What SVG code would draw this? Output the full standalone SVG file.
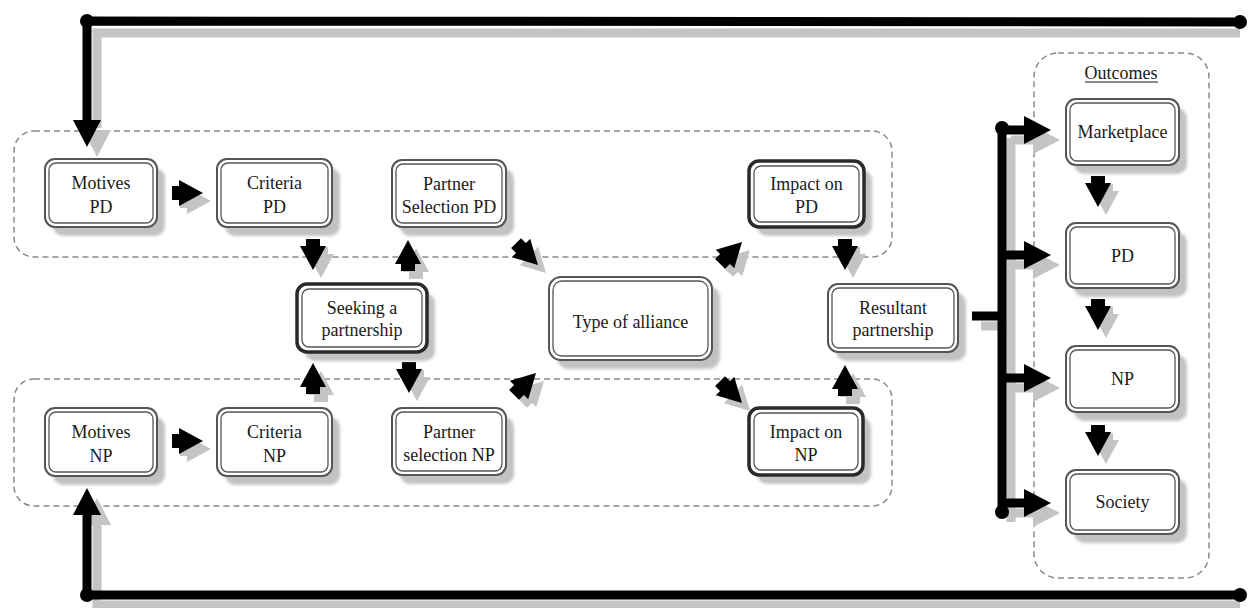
<svg xmlns="http://www.w3.org/2000/svg" xmlns:xlink="http://www.w3.org/1999/xlink" width="1254" height="608" viewBox="0 0 1254 608">
<style>
.bg{fill:#fff}
.dash{fill:none;stroke:#8a8a8a;stroke-width:1.5;stroke-dasharray:6 4}
.sh{fill:#c2c2c2}
.o{fill:#fff;stroke:#555;stroke-width:2}
.i{fill:none;stroke:#555;stroke-width:1.3}
.ot{fill:#fff;stroke:#2a2a2a;stroke-width:3.5}
.t{font-family:"Liberation Serif","Times New Roman",serif;font-size:18px;fill:#1a1a1a;text-anchor:middle}
.ln{fill:none;stroke:#000;stroke-width:9}
.lns{fill:none;stroke:#c4c4c4;stroke-width:9}
.blk{fill:#000}
.gry{fill:#c4c4c4}
</style>
<defs>
<filter id="bl" x="-10%" y="-10%" width="120%" height="120%"><feGaussianBlur stdDeviation="1.5"/></filter>
<g id="ah"><rect x="-31" y="-7" width="9" height="14"/><polygon points="-24,-13 0,0 -24,13"/></g>
<polygon id="lh" points="-27,-14 0,0 -27,14"/>
</defs>
<rect class="bg" x="0" y="0" width="1254" height="608"/>

<g id="containers">
<rect class="dash" x="14" y="131" width="878" height="126" rx="20"/>
<rect class="dash" x="14" y="379" width="878" height="127" rx="20"/>
<rect class="dash" x="1034" y="53" width="175" height="525" rx="24"/>
</g>

<g id="connectors">
<!-- feedback loops shadows -->
<g class="gry">
<path class="lns" d="M1240,33 H97 V128"/>
<use xlink:href="#lh" transform="translate(97,157) rotate(90)"/>
<path class="lns" d="M1240,605 H97 V508"/>
<use xlink:href="#lh" transform="translate(97,498) rotate(-90)"/>
<path class="lns" d="M981,326 H1011 M1011,138 V522 M1011,140 H1040 M1011,265 H1040 M1011,388 H1040 M1011,513 H1040"/>
<use xlink:href="#lh" transform="translate(1060,140)"/>
<use xlink:href="#lh" transform="translate(1060,265)"/>
<use xlink:href="#lh" transform="translate(1060,388)"/>
<use xlink:href="#lh" transform="translate(1060,513)"/>
<use xlink:href="#ah" transform="translate(211,201)"/>
<use xlink:href="#ah" transform="translate(211,449)"/>
<use xlink:href="#ah" transform="translate(321,278) rotate(90)"/>
<use xlink:href="#ah" transform="translate(416,248) rotate(-90)"/>
<use xlink:href="#ah" transform="translate(321,371) rotate(-90)"/>
<use xlink:href="#ah" transform="translate(417,401) rotate(90)"/>
<use xlink:href="#ah" transform="translate(546,273) rotate(45)"/>
<use xlink:href="#ah" transform="translate(544,381) rotate(-45)"/>
<use xlink:href="#ah" transform="translate(750,250) rotate(-45)"/>
<use xlink:href="#ah" transform="translate(750,411) rotate(45)"/>
<use xlink:href="#ah" transform="translate(853,278) rotate(90)"/>
<use xlink:href="#ah" transform="translate(853,373) rotate(-90)"/>
<use xlink:href="#ah" transform="translate(1106,215) rotate(90)"/>
<use xlink:href="#ah" transform="translate(1106,338) rotate(90)"/>
<use xlink:href="#ah" transform="translate(1106,464) rotate(90)"/>
</g>
<g class="blk">
<path class="ln" d="M1240,22 L87,21 V122"/>
<use xlink:href="#lh" transform="translate(87,147) rotate(90)"/>
<circle cx="87" cy="21" r="7"/><circle cx="1240" cy="22" r="7"/>
<path class="ln" d="M1240,595 H87 V512"/>
<use xlink:href="#lh" transform="translate(87,488) rotate(-90)"/>
<circle cx="87" cy="595" r="7"/><circle cx="1240" cy="595" r="7"/>
<path class="ln" d="M972,316 H1002 M1002,128 V512 M1002,130 H1030 M1002,255 H1030 M1002,378 H1030 M1002,503 H1030"/>
<circle cx="1002" cy="128" r="7"/><circle cx="1002" cy="512" r="7"/>
<use xlink:href="#lh" transform="translate(1051,130)"/>
<use xlink:href="#lh" transform="translate(1051,255)"/>
<use xlink:href="#lh" transform="translate(1051,378)"/>
<use xlink:href="#lh" transform="translate(1051,503)"/>
<use xlink:href="#ah" transform="translate(203,193)"/>
<use xlink:href="#ah" transform="translate(203,441)"/>
<use xlink:href="#ah" transform="translate(313,270) rotate(90)"/>
<use xlink:href="#ah" transform="translate(408,240) rotate(-90)"/>
<use xlink:href="#ah" transform="translate(313,363) rotate(-90)"/>
<use xlink:href="#ah" transform="translate(409,393) rotate(90)"/>
<use xlink:href="#ah" transform="translate(538,265) rotate(45)"/>
<use xlink:href="#ah" transform="translate(536,373) rotate(-45)"/>
<use xlink:href="#ah" transform="translate(742,242) rotate(-45)"/>
<use xlink:href="#ah" transform="translate(742,403) rotate(45)"/>
<use xlink:href="#ah" transform="translate(845,270) rotate(90)"/>
<use xlink:href="#ah" transform="translate(845,365) rotate(-90)"/>
<use xlink:href="#ah" transform="translate(1098,207) rotate(90)"/>
<use xlink:href="#ah" transform="translate(1098,330) rotate(90)"/>
<use xlink:href="#ah" transform="translate(1098,456) rotate(90)"/>
</g>
</g>

<g id="motives-pd">
<rect class="sh" filter="url(#bl)" x="53" y="168" width="112" height="68" rx="10"/>
<rect class="o" x="45" y="159" width="112" height="68" rx="10"/>
<rect class="i" x="49" y="163" width="104" height="60" rx="7"/>
<text class="t" x="101" y="189">Motives</text><text class="t" x="101" y="213">PD</text>
</g>
<g id="criteria-pd">
<rect class="sh" filter="url(#bl)" x="225" y="168" width="115" height="68" rx="10"/>
<rect class="o" x="217" y="159" width="115" height="68" rx="10"/>
<rect class="i" x="221" y="163" width="107" height="60" rx="7"/>
<text class="t" x="274.5" y="189">Criteria</text><text class="t" x="274.5" y="213">PD</text>
</g>
<g id="partner-selection-pd">
<rect class="sh" filter="url(#bl)" x="400" y="169" width="114" height="67" rx="10"/>
<rect class="o" x="392" y="160" width="114" height="67" rx="10"/>
<rect class="i" x="396" y="164" width="106" height="59" rx="7"/>
<text class="t" x="449" y="190">Partner</text><text class="t" x="449" y="213">Selection PD</text>
</g>
<g id="seeking">
<rect class="sh" filter="url(#bl)" x="305" y="293" width="130" height="68" rx="10"/>
<rect class="ot" x="297" y="284" width="130" height="68" rx="10"/>
<rect class="i" x="302" y="289" width="120" height="58" rx="7"/>
<text class="t" x="362" y="314">Seeking a</text><text class="t" x="362" y="336">partnership</text>
</g>
<g id="type-of-alliance">
<rect class="sh" filter="url(#bl)" x="557" y="286" width="163" height="83" rx="12"/>
<rect class="o" x="549" y="277" width="163" height="83" rx="12"/>
<rect class="i" x="553" y="281" width="155" height="75" rx="9"/>
<text class="t" x="630.5" y="328">Type of alliance</text>
</g>
<g id="impact-pd">
<rect class="sh" filter="url(#bl)" x="757" y="170" width="115" height="66" rx="10"/>
<rect class="ot" x="749" y="161" width="115" height="66" rx="10"/>
<rect class="i" x="754" y="166" width="105" height="56" rx="7"/>
<text class="t" x="806.5" y="190">Impact on</text><text class="t" x="806.5" y="213">PD</text>
</g>
<g id="resultant">
<rect class="sh" filter="url(#bl)" x="836" y="293" width="130" height="68" rx="10"/>
<rect class="o" x="828" y="284" width="130" height="68" rx="10"/>
<rect class="i" x="832" y="288" width="122" height="60" rx="7"/>
<text class="t" x="893" y="314">Resultant</text><text class="t" x="893" y="336">partnership</text>
</g>
<g id="impact-np">
<rect class="sh" filter="url(#bl)" x="757" y="417" width="114" height="67" rx="10"/>
<rect class="ot" x="749" y="408" width="114" height="67" rx="10"/>
<rect class="i" x="754" y="413" width="104" height="57" rx="7"/>
<text class="t" x="806" y="438">Impact on</text><text class="t" x="806" y="461">NP</text>
</g>
<g id="partner-selection-np">
<rect class="sh" filter="url(#bl)" x="400" y="417" width="114" height="67" rx="10"/>
<rect class="o" x="392" y="408" width="114" height="67" rx="10"/>
<rect class="i" x="396" y="412" width="106" height="59" rx="7"/>
<text class="t" x="449" y="438">Partner</text><text class="t" x="449" y="461">selection NP</text>
</g>
<g id="motives-np">
<rect class="sh" filter="url(#bl)" x="53" y="417" width="112" height="68" rx="10"/>
<rect class="o" x="45" y="408" width="112" height="68" rx="10"/>
<rect class="i" x="49" y="412" width="104" height="60" rx="7"/>
<text class="t" x="101" y="438">Motives</text><text class="t" x="101" y="462">NP</text>
</g>
<g id="criteria-np">
<rect class="sh" filter="url(#bl)" x="225" y="417" width="115" height="68" rx="10"/>
<rect class="o" x="217" y="408" width="115" height="68" rx="10"/>
<rect class="i" x="221" y="412" width="107" height="60" rx="7"/>
<text class="t" x="274.5" y="438">Criteria</text><text class="t" x="274.5" y="462">NP</text>
</g>

<g id="outcomes-label">
<text class="t" x="1121" y="79">Outcomes</text>
<line x1="1085" y1="82" x2="1158" y2="82" stroke="#1a1a1a" stroke-width="1"/>
</g>
<g id="marketplace">
<rect class="sh" filter="url(#bl)" x="1074" y="108" width="113" height="66" rx="10"/>
<rect class="o" x="1066" y="99" width="113" height="66" rx="10"/>
<rect class="i" x="1070" y="103" width="105" height="58" rx="7"/>
<text class="t" x="1122.5" y="138">Marketplace</text>
</g>
<g id="outcome-pd">
<rect class="sh" filter="url(#bl)" x="1074" y="232" width="113" height="65" rx="10"/>
<rect class="o" x="1066" y="223" width="113" height="65" rx="10"/>
<rect class="i" x="1070" y="227" width="105" height="57" rx="7"/>
<text class="t" x="1122.5" y="262">PD</text>
</g>
<g id="outcome-np">
<rect class="sh" filter="url(#bl)" x="1074" y="355" width="113" height="66" rx="10"/>
<rect class="o" x="1066" y="346" width="113" height="66" rx="10"/>
<rect class="i" x="1070" y="350" width="105" height="58" rx="7"/>
<text class="t" x="1122.5" y="385">NP</text>
</g>
<g id="society">
<rect class="sh" filter="url(#bl)" x="1074" y="479" width="113" height="64" rx="10"/>
<rect class="o" x="1066" y="470" width="113" height="64" rx="10"/>
<rect class="i" x="1070" y="474" width="105" height="56" rx="7"/>
<text class="t" x="1122.5" y="508">Society</text>
</g>
</svg>
